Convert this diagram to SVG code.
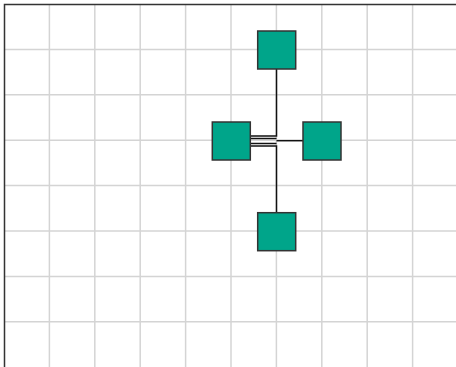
<svg xmlns="http://www.w3.org/2000/svg" width="456" height="367" viewBox="0 0 456 367">
<style>
.grid line{stroke:#d4d4d4;stroke-width:1.5}
.node rect{fill:#00a58a;stroke:#333;stroke-width:1.5}
.edges path{fill:none;stroke:#111;stroke-width:1.5}
</style>
<rect width="456" height="367" fill="#fff"/>
<g class="grid">
<line x1="49.4" y1="4" x2="49.4" y2="367"/>
<line x1="94.8" y1="4" x2="94.8" y2="367"/>
<line x1="140.2" y1="4" x2="140.2" y2="367"/>
<line x1="185.6" y1="4" x2="185.6" y2="367"/>
<line x1="231" y1="4" x2="231" y2="367"/>
<line x1="276.4" y1="4" x2="276.4" y2="367"/>
<line x1="321.8" y1="4" x2="321.8" y2="367"/>
<line x1="367.2" y1="4" x2="367.2" y2="367"/>
<line x1="412.6" y1="4" x2="412.6" y2="367"/>
<line x1="4" y1="49.4" x2="456" y2="49.4"/>
<line x1="4" y1="94.8" x2="456" y2="94.8"/>
<line x1="4" y1="140.2" x2="456" y2="140.2"/>
<line x1="4" y1="185.6" x2="456" y2="185.6"/>
<line x1="4" y1="231" x2="456" y2="231"/>
<line x1="4" y1="276.4" x2="456" y2="276.4"/>
<line x1="4" y1="321.8" x2="456" y2="321.8"/>
</g>
<path d="M4.5 367 V4.5 H456" fill="none" stroke="#333" stroke-width="1.5"/>
<g class="edges">
<path d="M276.5 69 V136 H250"/>
<path d="M250 138.5 H276.5"/>
<path d="M276.5 140.7 H303"/>
<path d="M250 143.5 H276.5"/>
<path d="M276.5 212.7 V146 H250"/>
</g>
<g id="node-top" class="node"><rect x="257.7" y="31" width="38" height="38"/></g>
<g id="node-left" class="node"><rect x="212.3" y="122" width="38" height="38"/></g>
<g id="node-right" class="node"><rect x="303" y="122" width="38" height="38"/></g>
<g id="node-bottom" class="node"><rect x="257.7" y="212.7" width="38" height="38"/></g>
</svg>
